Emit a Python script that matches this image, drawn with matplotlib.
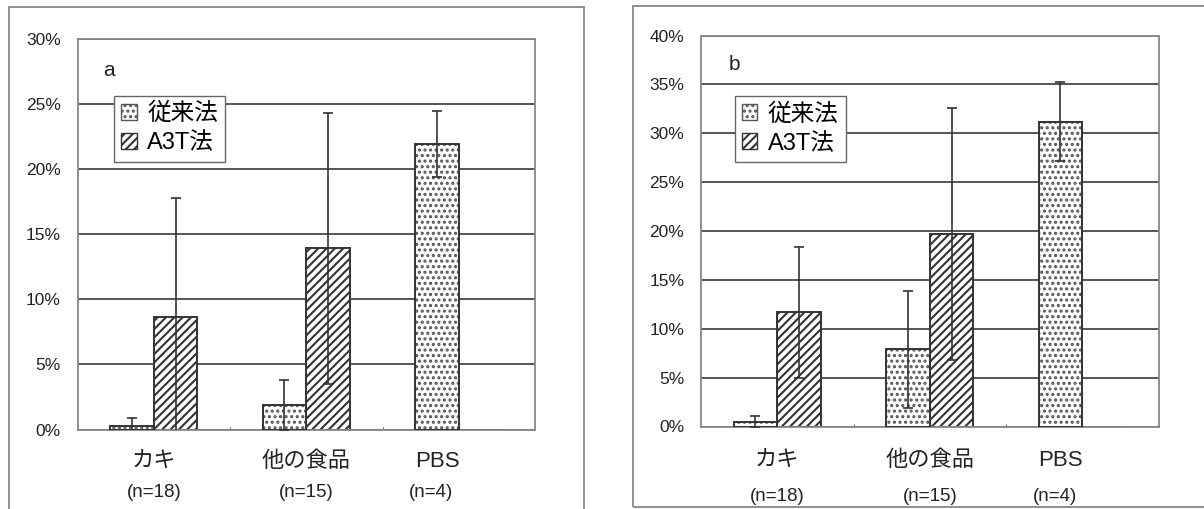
import matplotlib
matplotlib.use('Agg')
import matplotlib.pyplot as plt
import numpy as np
from matplotlib.patches import Rectangle, Patch
from matplotlib.ticker import FuncFormatter

plt.rcParams['font.family'] = ['Liberation Sans', 'Noto Sans CJK JP']
plt.rcParams['hatch.linewidth'] = 1.5

categories = ['カキ', '他の食品', 'PBS']
n_labels = ['(n=18)', '(n=15)', '(n=4)']
series = ['従来法', 'A3T法']

# recovery rate (%) and SD, panel a
a_conv = [0.3, 1.9, 21.9]
a_conv_sd = [0.6, 1.9, 2.55]
a_a3t = [8.6, 13.9, 0]
a_a3t_sd = [9.2, 10.4, 0]

# panel b
b_conv = [0.5, 7.9, 31.2]
b_conv_sd = [0.6, 6.0, 4.0]
b_a3t = [11.7, 19.7, 0]
b_a3t_sd = [6.7, 12.9, 0]

fig = plt.figure(figsize=(12.04, 5.09), dpi=100)
W, H = 1204, 509

# outer boxes around each chart
fig.patches.append(Rectangle((8.5 / W, -0.05), 575 / W, (509 - 7) / H + 0.05,
                             transform=fig.transFigure, fill=False,
                             edgecolor='#888888', lw=1.3))
fig.patches.append(Rectangle((632.5 / W, 2 / H), 600 / W, (507 - 6) / H,
                             transform=fig.transFigure, fill=False,
                             edgecolor='#888888', lw=1.3))

width = 1 / 3.5
x = np.arange(len(categories))


def panel(rect, letter, conv, conv_sd, a3t, a3t_sd, ymax, letter_xy, leg_xy, lab_y, n_y):
    ax = fig.add_axes([rect[0] / W, 1 - rect[3] / H, (rect[2] - rect[0]) / W,
                       (rect[3] - rect[1]) / H])
    ax.set_xlim(-0.5, 2.5)
    ax.set_ylim(0, ymax)
    ax.set_yticks(np.arange(0, ymax + 1, 5))
    ax.yaxis.set_major_formatter(FuncFormatter(lambda v, p: f'{v:.0f}%'))
    ax.tick_params(axis='y', length=0, pad=12, labelsize=12.5, colors='#222222')
    ax.set_xticks([])
    ax.set_xticks([0.5, 1.5], minor=True)
    ax.tick_params(axis='x', which='minor', direction='in', length=2, color='#444444')
    ax.set_axisbelow(True)
    ax.grid(axis='y', color='#555555', lw=1.4)
    for s in ax.spines.values():
        s.set_color('#888888')
        s.set_linewidth(1.3)

    # dotted bars: dot pattern, then dark outline
    ax.bar(x - width / 2, conv, width, color='white', edgecolor='#555555',
           hatch='...', lw=0, zorder=2)
    ax.bar(x - width / 2, conv, width, fill=False, edgecolor='#333333', lw=1.4, zorder=3)
    ax.bar(x + width / 2, a3t, width, color='white', edgecolor='#333333',
           hatch='////', lw=1.4, zorder=2)

    for xs, vals, sds in [(x - width / 2, conv, conv_sd), (x + width / 2, a3t, a3t_sd)]:
        for xi, v, sd in zip(xs, vals, sds):
            if sd > 0:
                ax.errorbar(xi, v, yerr=sd, fmt='none', ecolor='#333333',
                            elinewidth=1.2, capsize=3.5, capthick=1.2, zorder=4)

    ax.text(letter_xy[0], letter_xy[1], letter, transform=ax.transAxes,
            fontsize=15, ha='center', va='center', color='#222222')

    handles = [Patch(facecolor='white', edgecolor='#555555', hatch='...', lw=1.0),
               Patch(facecolor='white', edgecolor='#333333', hatch='////', lw=1.0)]
    leg = ax.legend(handles, series, loc='upper left', bbox_to_anchor=leg_xy,
                    borderaxespad=0, fancybox=False, framealpha=1, fontsize=17,
                    handlelength=0.65, handleheight=0.65, handletextpad=0.45,
                    labelspacing=0.3, borderpad=0.3)
    leg.get_frame().set_edgecolor('#666666')
    leg.get_frame().set_linewidth(1.0)

    tr = ax.get_xaxis_transform()
    lab_x = [0, 1, 2 - width / 2]
    n_x = [0, 1, 1.82]
    for xi, t in zip(lab_x, categories):
        ax.text(xi, lab_y, t, transform=tr, ha='center', va='center',
                fontsize=16, color='#222222', clip_on=False)
    for xi, t in zip(n_x, n_labels):
        ax.text(xi, n_y, t, transform=tr, ha='center', va='center',
                fontsize=13.5, color='#222222', clip_on=False)
    return ax


panel((77.5, 38.5, 535, 429.5), 'a', a_conv, a_conv_sd, a_a3t, a_a3t_sd, 30,
      (0.069, 0.917), (0.08, 0.853), -0.083, -0.162)
panel((701, 35.5, 1158.5, 426.5), 'b', b_conv, b_conv_sd, b_a3t, b_a3t_sd, 40,
      (0.074, 0.927), (0.074, 0.845), -0.086, -0.178)

fig.savefig('out.png', dpi=100, facecolor='white')
